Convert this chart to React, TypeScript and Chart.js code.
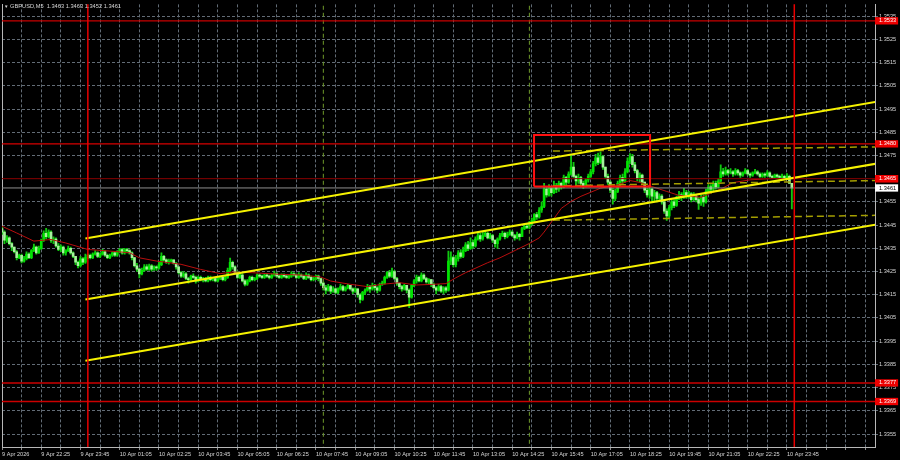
import React, { useEffect, useRef } from 'react';
import { Chart, registerables } from 'chart.js';

Chart.register(...registerables);

// ---------- DATA (M5 bars, index 0 = 9 Apr 21:05) ----------
const chartTitle = 'GBPUSD,M5  1.3463 1.3463 1.3452 1.3461';

const barOpen = [
  1.34435, 1.3442, 1.34385, 1.34395, 1.3437, 1.34355, 1.34335, 1.3431, 1.3432, 1.34295,
  1.34305, 1.34325, 1.3431, 1.3434, 1.34355, 1.3433, 1.3435, 1.34385, 1.34415, 1.344,
  1.3442, 1.34385, 1.3439, 1.3436, 1.34345, 1.34355, 1.3433, 1.3434, 1.3435, 1.3433,
  1.34315, 1.3429, 1.34275, 1.34305, 1.3429, 1.3431, 1.3432, 1.3431, 1.34325, 1.3433,
  1.34315, 1.34325, 1.34335, 1.3432, 1.3431, 1.3432, 1.3433, 1.3432, 1.34335, 1.34345,
  1.3433, 1.34345, 1.3434, 1.3433, 1.3431, 1.34275, 1.3426, 1.3424, 1.34255, 1.3427,
  1.3426, 1.34275, 1.3426, 1.3427, 1.34265, 1.3428, 1.34315, 1.343, 1.3429, 1.34295,
  1.343, 1.34285, 1.3427, 1.34245, 1.3423, 1.3424, 1.3422, 1.34215, 1.3423, 1.34225,
  1.3421, 1.34225, 1.34215, 1.3422, 1.3421, 1.34225, 1.34215, 1.3422, 1.3421, 1.3422,
  1.34225, 1.34215, 1.34225, 1.34255, 1.3429, 1.3427, 1.34245, 1.34225, 1.34235, 1.3421,
  1.34195, 1.3421, 1.34225, 1.34215, 1.3422, 1.34235, 1.3423, 1.34225, 1.34235, 1.3423,
  1.34225, 1.34235, 1.3424, 1.3423, 1.34225, 1.34235, 1.3423, 1.34225, 1.3423, 1.3424,
  1.34235, 1.34225, 1.34235, 1.3423, 1.3422, 1.34235, 1.34225, 1.34215, 1.3422, 1.3423,
  1.3422, 1.342, 1.3418, 1.3417, 1.34185, 1.34165, 1.34175, 1.3416, 1.34175, 1.34185,
  1.3417, 1.3418, 1.3419, 1.34175, 1.34165, 1.34175, 1.3415, 1.3413, 1.3416, 1.3417,
  1.34185, 1.34175, 1.3419, 1.3418, 1.3417, 1.34195, 1.342, 1.34225, 1.34245, 1.3423,
  1.3425, 1.3422, 1.342, 1.34185, 1.34175, 1.3419, 1.3417, 1.3414, 1.3419, 1.3421,
  1.34225, 1.3421, 1.34235, 1.3422, 1.34205, 1.34215, 1.34195, 1.3418, 1.3417, 1.34185,
  1.34165, 1.3418, 1.3417, 1.34295, 1.3431, 1.3428, 1.34305, 1.3433, 1.34315, 1.3434,
  1.34365, 1.3435, 1.34375, 1.3436, 1.3439, 1.34405, 1.3439, 1.34405, 1.34415, 1.34395,
  1.34405, 1.34385, 1.3437, 1.3439, 1.34405, 1.34415, 1.344, 1.3441, 1.3442, 1.34405,
  1.34395, 1.3441, 1.344, 1.34435, 1.34445, 1.3444, 1.34455, 1.3447, 1.34495, 1.34485,
  1.34515, 1.3453, 1.34605, 1.3458, 1.3461, 1.3459, 1.3462, 1.34605, 1.3463, 1.34615,
  1.34655, 1.34635, 1.3467, 1.347, 1.3466, 1.3464, 1.34655, 1.3463, 1.3462, 1.34645,
  1.3466, 1.3468, 1.34715, 1.3474, 1.3472, 1.34745, 1.347, 1.3466, 1.34635, 1.346,
  1.34565, 1.34595, 1.3463, 1.34655, 1.3464, 1.3468, 1.34725, 1.34745, 1.3471, 1.34685,
  1.3465, 1.34665, 1.34635, 1.346, 1.3458, 1.34605, 1.34575, 1.3459, 1.34565, 1.34575,
  1.3455, 1.3451, 1.3449, 1.34525, 1.3455, 1.34535, 1.34565, 1.3458, 1.3457, 1.3459,
  1.34575, 1.34585, 1.3456, 1.34575, 1.3456, 1.34545, 1.3457, 1.3455, 1.34595, 1.34615,
  1.34605, 1.3463, 1.34615, 1.3464, 1.3468, 1.3467, 1.34685, 1.34675, 1.3468, 1.3467,
  1.34685, 1.34675, 1.34665, 1.34675, 1.34685, 1.3467, 1.34665, 1.34675, 1.3468, 1.3467,
  1.3466, 1.3467, 1.34665, 1.34675, 1.3466, 1.34655, 1.34665, 1.3466, 1.34655, 1.3466,
  1.3465, 1.3466, 1.3463,
];

const barHigh = [
  1.34445, 1.34425, 1.34405, 1.344, 1.34375, 1.34355, 1.3434, 1.34325, 1.34325, 1.34315,
  1.34335, 1.3433, 1.34345, 1.34368, 1.3436, 1.3436, 1.3439, 1.34425, 1.34436, 1.3443,
  1.34425, 1.344, 1.34395, 1.3437, 1.34365, 1.3436, 1.34345, 1.3436, 1.34355, 1.34335,
  1.34315, 1.34295, 1.34315, 1.3431, 1.34325, 1.34325, 1.34325, 1.3433, 1.3434, 1.34335,
  1.3433, 1.34346, 1.3434, 1.34325, 1.34325, 1.34335, 1.34335, 1.3434, 1.3435, 1.3435,
  1.3435, 1.3435, 1.34345, 1.34335, 1.3431, 1.34285, 1.34265, 1.34265, 1.3428, 1.3428,
  1.34282, 1.3428, 1.34275, 1.34275, 1.3429, 1.3433, 1.3432, 1.34305, 1.34304, 1.34304,
  1.343, 1.3429, 1.3427, 1.3425, 1.3425, 1.34245, 1.34225, 1.34235, 1.3424, 1.3423,
  1.3423, 1.3423, 1.34225, 1.34225, 1.3423, 1.3423, 1.34225, 1.34225, 1.34225, 1.3423,
  1.3423, 1.3423, 1.34265, 1.34308, 1.34295, 1.34275, 1.34252, 1.34245, 1.3424, 1.34215,
  1.34215, 1.3423, 1.3423, 1.34225, 1.3424, 1.3424, 1.34235, 1.3424, 1.3424, 1.34235,
  1.3424, 1.34252, 1.34245, 1.34235, 1.3424, 1.3424, 1.34235, 1.34235, 1.3425, 1.34245,
  1.3424, 1.34245, 1.3424, 1.34235, 1.34244, 1.3424, 1.3423, 1.34225, 1.34235, 1.34235,
  1.34222, 1.34205, 1.3419, 1.34195, 1.3419, 1.34185, 1.3418, 1.3418, 1.34196, 1.3419,
  1.34185, 1.34195, 1.3419, 1.3418, 1.3418, 1.34175, 1.34155, 1.34165, 1.34175, 1.34195,
  1.3419, 1.342, 1.34195, 1.34185, 1.342, 1.34209, 1.3423, 1.3425, 1.34255, 1.34265,
  1.34255, 1.34225, 1.342, 1.3419, 1.34195, 1.3419, 1.34175, 1.34195, 1.34215, 1.34235,
  1.3423, 1.34244, 1.3424, 1.34225, 1.3422, 1.34215, 1.342, 1.34185, 1.34195, 1.3419,
  1.34185, 1.34185, 1.34338, 1.34335, 1.34315, 1.3432, 1.3434, 1.34345, 1.34355, 1.34375,
  1.3438, 1.34395, 1.34385, 1.344, 1.3442, 1.34415, 1.3442, 1.34424, 1.3442, 1.34415,
  1.3441, 1.34385, 1.34395, 1.34415, 1.34424, 1.3442, 1.3442, 1.3443, 1.34425, 1.3441,
  1.3442, 1.34415, 1.3444, 1.3445, 1.34455, 1.34466, 1.3448, 1.345, 1.34505, 1.34525,
  1.3455, 1.3463, 1.34615, 1.34625, 1.34615, 1.3464, 1.3463, 1.3464, 1.34635, 1.34665,
  1.3466, 1.3468, 1.34754, 1.3472, 1.34665, 1.3467, 1.3466, 1.3464, 1.3465, 1.3467,
  1.3469, 1.34725, 1.34755, 1.3476, 1.34766, 1.3475, 1.347, 1.3467, 1.3464, 1.3461,
  1.34605, 1.3464, 1.34665, 1.3467, 1.34694, 1.3474, 1.34758, 1.34755, 1.3472, 1.3469,
  1.34675, 1.3467, 1.34635, 1.3461, 1.34615, 1.3461, 1.346, 1.34595, 1.34585, 1.34582,
  1.3456, 1.3452, 1.34535, 1.3456, 1.3456, 1.34575, 1.34595, 1.3459, 1.34608, 1.346,
  1.34595, 1.3459, 1.3459, 1.3458, 1.3457, 1.3458, 1.3458, 1.34605, 1.34625, 1.34625,
  1.3464, 1.3464, 1.3465, 1.3471, 1.34695, 1.347, 1.3469, 1.34694, 1.34685, 1.34694,
  1.3469, 1.3468, 1.3468, 1.34694, 1.3469, 1.34675, 1.3468, 1.3469, 1.34685, 1.34675,
  1.34675, 1.34675, 1.34685, 1.3468, 1.34665, 1.3467, 1.3467, 1.34665, 1.3467, 1.34665,
  1.34672, 1.34665, 1.3463,
];

const barLow = [
  1.3441, 1.3437, 1.34375, 1.34365, 1.3434, 1.3433, 1.343, 1.34305, 1.34287, 1.3429,
  1.343, 1.34305, 1.34305, 1.34335, 1.34325, 1.34328, 1.34345, 1.3438, 1.3439, 1.34395,
  1.34375, 1.3437, 1.34355, 1.3434, 1.34335, 1.3432, 1.3432, 1.34335, 1.34325, 1.3431,
  1.3428, 1.34265, 1.3427, 1.3428, 1.34285, 1.34305, 1.34304, 1.34305, 1.3432, 1.3431,
  1.3431, 1.3432, 1.34315, 1.34305, 1.34305, 1.34315, 1.34315, 1.34315, 1.3433, 1.34325,
  1.34325, 1.3433, 1.34325, 1.343, 1.3427, 1.3425, 1.34222, 1.34235, 1.3425, 1.34255,
  1.34255, 1.34252, 1.34255, 1.34255, 1.3426, 1.34275, 1.34295, 1.34285, 1.34282, 1.3429,
  1.34282, 1.3426, 1.3424, 1.34225, 1.34225, 1.34215, 1.342, 1.3421, 1.3422, 1.342,
  1.34205, 1.3421, 1.34205, 1.34205, 1.34205, 1.3421, 1.3421, 1.34205, 1.34205, 1.34215,
  1.3421, 1.3421, 1.3422, 1.3425, 1.3426, 1.3424, 1.3422, 1.3422, 1.34205, 1.34188,
  1.3419, 1.34205, 1.3421, 1.3421, 1.34215, 1.34225, 1.3422, 1.3422, 1.34225, 1.34218,
  1.3422, 1.3423, 1.34225, 1.3422, 1.3422, 1.34225, 1.3422, 1.3422, 1.34225, 1.3423,
  1.3422, 1.3422, 1.34225, 1.34215, 1.34215, 1.3422, 1.3421, 1.34209, 1.34215, 1.3421,
  1.3419, 1.3417, 1.34154, 1.34165, 1.34155, 1.3416, 1.34155, 1.34155, 1.3417, 1.34165,
  1.34165, 1.34175, 1.3417, 1.34155, 1.3416, 1.3414, 1.34115, 1.34125, 1.3415, 1.34165,
  1.3416, 1.3417, 1.3417, 1.34158, 1.34165, 1.3419, 1.34195, 1.3422, 1.34225, 1.34225,
  1.34215, 1.3419, 1.34175, 1.34165, 1.3417, 1.34158, 1.34094, 1.34135, 1.34185, 1.342,
  1.34205, 1.34205, 1.34215, 1.342, 1.34195, 1.34185, 1.34175, 1.34154, 1.34165, 1.3416,
  1.34155, 1.3416, 1.34165, 1.3428, 1.3427, 1.3427, 1.34295, 1.34308, 1.3431, 1.34335,
  1.3434, 1.34345, 1.3435, 1.34355, 1.34385, 1.3438, 1.34385, 1.344, 1.3439, 1.3439,
  1.34375, 1.34355, 1.3435, 1.34385, 1.344, 1.3439, 1.34395, 1.34405, 1.344, 1.34385,
  1.3439, 1.34385, 1.344, 1.3443, 1.34435, 1.34435, 1.3445, 1.34465, 1.34475, 1.3448,
  1.34505, 1.34525, 1.3457, 1.34575, 1.34575, 1.34585, 1.3459, 1.34595, 1.34605, 1.3461,
  1.3462, 1.3463, 1.34665, 1.34655, 1.3462, 1.3463, 1.34615, 1.34608, 1.34615, 1.34635,
  1.34655, 1.3467, 1.34705, 1.3471, 1.34715, 1.3469, 1.3465, 1.34625, 1.3459, 1.3454,
  1.34555, 1.3459, 1.3462, 1.34625, 1.34635, 1.34675, 1.34715, 1.347, 1.34675, 1.3464,
  1.34635, 1.34625, 1.3459, 1.3457, 1.34565, 1.34555, 1.34555, 1.3455, 1.34555, 1.3454,
  1.345, 1.3447, 1.3448, 1.34515, 1.34525, 1.3453, 1.3456, 1.34555, 1.34565, 1.34565,
  1.34565, 1.3455, 1.34555, 1.3455, 1.34518, 1.34535, 1.3453, 1.34545, 1.34585, 1.34585,
  1.34595, 1.34605, 1.3461, 1.34635, 1.3466, 1.34665, 1.34665, 1.3467, 1.3466, 1.34665,
  1.34665, 1.34655, 1.3466, 1.3467, 1.34665, 1.34655, 1.3466, 1.3467, 1.34665, 1.34655,
  1.34655, 1.34655, 1.3466, 1.34655, 1.3465, 1.3465, 1.3465, 1.34648, 1.3465, 1.34646,
  1.34648, 1.3463, 1.3452,
];

const barClose = [
  1.3442, 1.34385, 1.34395, 1.3437, 1.34355, 1.34335, 1.3431, 1.3432, 1.34295, 1.34305,
  1.34325, 1.3431, 1.3434, 1.34355, 1.3433, 1.3435, 1.34385, 1.34415, 1.344, 1.3442,
  1.34385, 1.3439, 1.3436, 1.34345, 1.34355, 1.3433, 1.3434, 1.3435, 1.3433, 1.34315,
  1.3429, 1.34275, 1.34305, 1.3429, 1.3431, 1.3432, 1.3431, 1.34325, 1.3433, 1.34315,
  1.34325, 1.34335, 1.3432, 1.3431, 1.3432, 1.3433, 1.3432, 1.34335, 1.34345, 1.3433,
  1.34345, 1.3434, 1.3433, 1.3431, 1.34275, 1.3426, 1.3424, 1.34255, 1.3427, 1.3426,
  1.34275, 1.3426, 1.3427, 1.34265, 1.3428, 1.34315, 1.343, 1.3429, 1.34295, 1.343,
  1.34285, 1.3427, 1.34245, 1.3423, 1.3424, 1.3422, 1.34215, 1.3423, 1.34225, 1.3421,
  1.34225, 1.34215, 1.3422, 1.3421, 1.34225, 1.34215, 1.3422, 1.3421, 1.3422, 1.34225,
  1.34215, 1.34225, 1.34255, 1.3429, 1.3427, 1.34245, 1.34225, 1.34235, 1.3421, 1.34195,
  1.3421, 1.34225, 1.34215, 1.3422, 1.34235, 1.3423, 1.34225, 1.34235, 1.3423, 1.34225,
  1.34235, 1.3424, 1.3423, 1.34225, 1.34235, 1.3423, 1.34225, 1.3423, 1.3424, 1.34235,
  1.34225, 1.34235, 1.3423, 1.3422, 1.34235, 1.34225, 1.34215, 1.3422, 1.3423, 1.3422,
  1.342, 1.3418, 1.3417, 1.34185, 1.34165, 1.34175, 1.3416, 1.34175, 1.34185, 1.3417,
  1.3418, 1.3419, 1.34175, 1.34165, 1.34175, 1.3415, 1.3413, 1.3416, 1.3417, 1.34185,
  1.34175, 1.3419, 1.3418, 1.3417, 1.34195, 1.342, 1.34225, 1.34245, 1.3423, 1.3425,
  1.3422, 1.342, 1.34185, 1.34175, 1.3419, 1.3417, 1.3414, 1.3419, 1.3421, 1.34225,
  1.3421, 1.34235, 1.3422, 1.34205, 1.34215, 1.34195, 1.3418, 1.3417, 1.34185, 1.34165,
  1.3418, 1.3417, 1.34295, 1.3431, 1.3428, 1.34305, 1.3433, 1.34315, 1.3434, 1.34365,
  1.3435, 1.34375, 1.3436, 1.3439, 1.34405, 1.3439, 1.34405, 1.34415, 1.34395, 1.34405,
  1.34385, 1.3437, 1.3439, 1.34405, 1.34415, 1.344, 1.3441, 1.3442, 1.34405, 1.34395,
  1.3441, 1.344, 1.34435, 1.34445, 1.3444, 1.34455, 1.3447, 1.34495, 1.34485, 1.34515,
  1.3453, 1.34605, 1.3458, 1.3461, 1.3459, 1.3462, 1.34605, 1.3463, 1.34615, 1.34655,
  1.34635, 1.3467, 1.347, 1.3466, 1.3464, 1.34655, 1.3463, 1.3462, 1.34645, 1.3466,
  1.3468, 1.34715, 1.3474, 1.3472, 1.34745, 1.347, 1.3466, 1.34635, 1.346, 1.34565,
  1.34595, 1.3463, 1.34655, 1.3464, 1.3468, 1.34725, 1.34745, 1.3471, 1.34685, 1.3465,
  1.34665, 1.34635, 1.346, 1.3458, 1.34605, 1.34575, 1.3459, 1.34565, 1.34575, 1.3455,
  1.3451, 1.3449, 1.34525, 1.3455, 1.34535, 1.34565, 1.3458, 1.3457, 1.3459, 1.34575,
  1.34585, 1.3456, 1.34575, 1.3456, 1.34545, 1.3457, 1.3455, 1.34595, 1.34615, 1.34605,
  1.3463, 1.34615, 1.3464, 1.3468, 1.3467, 1.34685, 1.34675, 1.3468, 1.3467, 1.34685,
  1.34675, 1.34665, 1.34675, 1.34685, 1.3467, 1.34665, 1.34675, 1.3468, 1.3467, 1.3466,
  1.3467, 1.34665, 1.34675, 1.3466, 1.34655, 1.34665, 1.3466, 1.34655, 1.3466, 1.3465,
  1.3466, 1.3463, 1.3461,
];

// moving average (red), read at sample bars
const maBar = [0, 6, 13, 20, 26, 35, 44, 52, 56, 63, 73, 81, 89, 94, 102, 113, 122, 130, 134, 142,
  149, 155, 162, 169, 176, 181, 185, 189, 198, 203, 210, 215, 219, 221, 225, 228, 232, 236, 244, 251,
  256, 260, 265, 271, 276, 285, 293, 298, 305, 313, 321];
const maValue = [1.34445, 1.34416, 1.34381, 1.34388, 1.34373, 1.34345, 1.34338, 1.34331, 1.34309, 1.34295,
  1.34281, 1.34259, 1.34241, 1.34248, 1.34245, 1.34238, 1.34235, 1.34226, 1.34209, 1.34195,
  1.34185, 1.34195, 1.34202, 1.34192, 1.34195, 1.34198, 1.34223, 1.34245, 1.34288, 1.34309,
  1.34345, 1.34371, 1.34395, 1.3442, 1.34478, 1.34522, 1.34552, 1.34574, 1.34609, 1.34624,
  1.34642, 1.34634, 1.34616, 1.34595, 1.34578, 1.3457, 1.34605, 1.34633, 1.34645, 1.3465,
  1.34651];

// time axis labels (every 16 bars)
const timeLabelBar = [0, 16, 32, 48, 64, 80, 96, 112, 128, 144, 160, 176, 192, 208, 224, 240, 256, 272, 288, 304, 320];
const timeLabels = ['9 Apr 2026', '9 Apr 22:25', '9 Apr 23:45', '10 Apr 01:05', '10 Apr 02:25', '10 Apr 03:45',
  '10 Apr 05:05', '10 Apr 06:25', '10 Apr 07:45', '10 Apr 09:05', '10 Apr 10:25', '10 Apr 11:45', '10 Apr 13:05',
  '10 Apr 14:25', '10 Apr 15:45', '10 Apr 17:05', '10 Apr 18:25', '10 Apr 19:45', '10 Apr 21:05', '10 Apr 22:25',
  '10 Apr 23:45'];

// price axis tick labels
const priceTicks = [1.3355, 1.3365, 1.3375, 1.3385, 1.3395, 1.3405, 1.3415, 1.3425, 1.3435, 1.3445,
  1.3455, 1.3465, 1.3475, 1.3485, 1.3495, 1.3505, 1.3515, 1.3525, 1.3535];

// horizontal level lines and bid line
const levelPrices = [1.3533, 1.348, 1.3465, 1.3377, 1.3369];
const bidPrice = 1.3461;

// rising channel (solid yellow): [start bar, end bar] and prices
const channelBars = [34, 356];
const channelUpper = [1.34392, 1.34981];
const channelMiddle = [1.34129, 1.34714];
const channelLower = [1.33866, 1.34452];

// dashed olive channel
const dashBars = [224.6, 356];
const dashUpper = [1.34769, 1.34787];
const dashMiddle = [1.34619, 1.34642];
const dashLower = [1.34471, 1.34492];

// red rectangle
const boxBars = [216.9, 264.2];
const boxPrices = [1.34616, 1.34838];

// vertical markers
const dayBreakBars = [35, 323];
const sessionBars = [131, 215];

// ---------- VIEW ----------
const X_MIN = 0;
const X_MAX = 355.9;
const Y_MIN = 1.33494;
const Y_MAX = 1.35401;

export default function App() {
  const canvasRef = useRef<HTMLCanvasElement | null>(null);

  useEffect(() => {
    const prevMargin = document.body.style.margin;
    document.body.style.margin = '0';
    document.body.style.background = '#000';

    const FONT = { family: '"Liberation Sans", Arial, sans-serif', size: 5.6 };
    const GRID = '#626c76';
    const FRAME = '#b8b8b8';
    const TXT = '#d8d8d8';

    const wicks = barHigh.map((h, i) => ({ x: i, y: [barLow[i], h] }));
    const bodies = barClose.map((c, i) => ({ x: i, y: [Math.min(barOpen[i], c), Math.max(barOpen[i], c)] }));
    const bodyColors = barClose.map((c, i) => (c >= barOpen[i] ? '#00e400' : '#a6f29c'));

    const datasets: any[] = [];
    const addLine = (data: any[], color: string, width: number, order: number, dash: number[] = []) => {
      datasets.push({
        type: 'line', data, borderColor: color, borderWidth: width, borderDash: dash,
        pointRadius: 0, pointHoverRadius: 0, fill: false, tension: 0, order,
        xAxisID: 'x', yAxisID: 'y', borderJoinStyle: 'miter',
      });
    };
    const hSpan = (p: number) => [{ x: X_MIN - 5, y: p }, { x: X_MAX + 5, y: p }];
    const vSpan = (b: number) => [{ x: b, y: 1.32 }, { x: b, y: 1.37 }];
    const seg = (bars: number[], prices: number[]) => [{ x: bars[0], y: prices[0] }, { x: bars[1], y: prices[1] }];

    // objects (lower order = drawn on top)
    addLine([
      { x: boxBars[0], y: boxPrices[0] }, { x: boxBars[1], y: boxPrices[0] },
      { x: boxBars[1], y: boxPrices[1] }, { x: boxBars[0], y: boxPrices[1] },
      { x: boxBars[0], y: boxPrices[0] },
    ], '#ff1010', 2, 1);
    dayBreakBars.forEach((b) => addLine(vSpan(b), '#e80000', 1.5, 2));
    addLine(seg(channelBars, channelUpper), '#f6f200', 2, 3);
    addLine(seg(channelBars, channelMiddle), '#f6f200', 2, 3);
    addLine(seg(channelBars, channelLower), '#f6f200', 2, 3);
    addLine(hSpan(levelPrices[0]), '#c80000', 1.2, 4);
    addLine(hSpan(levelPrices[1]), '#d80000', 1.3, 4);
    addLine(hSpan(levelPrices[2]), '#8a0000', 1, 4);
    addLine(hSpan(levelPrices[3]), '#cc0000', 1.4, 4);
    addLine(hSpan(levelPrices[4]), '#cc0000', 1.4, 4);
    addLine(seg(dashBars, dashUpper), '#a49e00', 1.5, 5, [7, 4]);
    addLine(seg(dashBars, dashMiddle), '#a49e00', 1.5, 5, [7, 4]);
    addLine(seg(dashBars, dashLower), '#a49e00', 1.5, 5, [7, 4]);
    sessionBars.forEach((b) => addLine(vSpan(b), '#6f9a2a', 1, 6, [4, 3]));
    addLine(hSpan(bidPrice), '#8e8e8e', 1, 7);
    addLine(maBar.map((b, k) => ({ x: b, y: maValue[k] })), '#b80e0e', 1, 8);

    datasets.push({
      type: 'bar', data: bodies, backgroundColor: bodyColors, borderWidth: 0,
      barThickness: 2, grouped: false, minBarLength: 1, order: 9, xAxisID: 'x', yAxisID: 'y',
    });
    datasets.push({
      type: 'bar', data: wicks, backgroundColor: '#10c810', borderWidth: 0,
      barThickness: 1.2, grouped: false, order: 10, xAxisID: 'x', yAxisID: 'y',
    });

    const labelAt = new Map<number, string>(timeLabelBar.map((b, k) => [b, timeLabels[k]]));
    const gridBars: number[] = [];
    for (let b = 0; b <= X_MAX; b += 8) gridBars.push(b);

    const specialTicks = [...levelPrices, bidPrice];
    const isSpecial = (v: any) => specialTicks.indexOf(v) >= 0;

    const chart = new Chart(canvasRef.current as HTMLCanvasElement, {
      type: 'bar',
      data: { datasets },
      options: {
        responsive: false,
        animation: false,
        devicePixelRatio: 1,
        events: [],
        layout: { padding: { left: 0, top: 2, right: 0, bottom: 0 } },
        plugins: { legend: { display: false }, tooltip: { enabled: false }, title: { display: false } },
        scales: {
          x: {
            type: 'linear', min: X_MIN, max: X_MAX, offset: false,
            grid: { color: GRID, lineWidth: 1, offset: false, drawTicks: true, tickLength: 3, tickColor: '#8a8a8a' },
            border: { display: true, color: FRAME, width: 1, dash: [3, 2] },
            ticks: {
              autoSkip: false, maxRotation: 0, minRotation: 0, align: 'start', padding: 1,
              color: TXT, font: FONT,
              callback: (v: any) => labelAt.get(Number(v)) ?? '',
            },
            afterBuildTicks: (s: any) => { s.ticks = gridBars.map((v) => ({ value: v })); },
            afterFit: (s: any) => { s.height = 13; },
          },
          y: {
            type: 'linear', position: 'right', min: Y_MIN, max: Y_MAX, beginAtZero: false,
            grid: {
              color: (c: any) => (c.tick && isSpecial(c.tick.value) ? 'rgba(0,0,0,0)' : GRID),
              lineWidth: 1, drawTicks: true, tickLength: 3,
            },
            border: { display: true, color: FRAME, width: 1, dash: [3, 2] },
            ticks: {
              autoSkip: false, padding: 1, font: FONT,
              color: (c: any) => (c.tick && c.tick.value === bidPrice ? '#000000' : (c.tick && isSpecial(c.tick.value) ? '#ffffff' : TXT)),
              showLabelBackdrop: (c: any) => !!(c.tick && isSpecial(c.tick.value)),
              backdropColor: (c: any) => (c.tick && c.tick.value === bidPrice ? '#ffffff' : '#ee0000'),
              backdropPadding: { left: 4, right: 2, top: 0.3, bottom: 0.3 },
              callback: (v: any) => Number(v).toFixed(4),
            },
            afterBuildTicks: (s: any) => { s.ticks = [...priceTicks, ...specialTicks].map((v) => ({ value: v })); },
            afterFit: (s: any) => { s.width = 25; },
          },
          yl: {
            type: 'linear', position: 'left', min: Y_MIN, max: Y_MAX, beginAtZero: false,
            grid: { display: false, drawTicks: false },
            border: { display: true, color: FRAME, width: 1 },
            ticks: { display: false },
            afterFit: (s: any) => { s.width = 2; },
          },
        },
      } as any,
    });

    return () => {
      chart.destroy();
      document.body.style.margin = prevMargin;
    };
  }, []);

  return (
    <div style={{ position: 'relative', width: 900, height: 460, background: '#000', overflow: 'hidden' }}>
      <canvas ref={canvasRef} width={900} height={460} style={{ display: 'block', width: 900, height: 460 }} />
      <div
        style={{
          position: 'absolute', left: 4, top: 2, color: '#d4d4d4', whiteSpace: 'pre',
          fontFamily: '"Liberation Sans", Arial, sans-serif', fontSize: 5.7, lineHeight: '8px',
        }}
      >
        <span style={{ fontSize: 4.5 }}>▼</span>{' ' + chartTitle}
      </div>
    </div>
  );
}
